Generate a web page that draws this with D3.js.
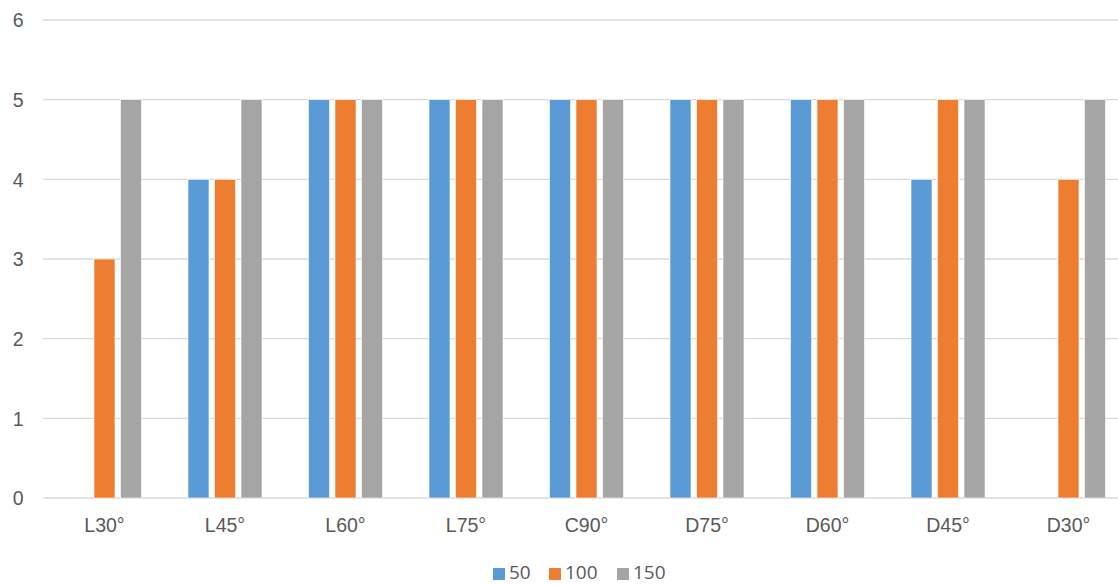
<!DOCTYPE html>
<html>
<head>
<meta charset="utf-8">
<script src="https://cdn.jsdelivr.net/npm/d3@7"></script>
<style>
  html, body { margin: 0; padding: 0; background: #fff; }
  svg { display: block; font-family: "Open Sans", "Liberation Sans", sans-serif; }
</style>
</head>
<body>
<svg id="chart" width="1118" height="585"></svg>
<script>
// Angle positions along the x axis
const categories = ["L30°", "L45°", "L60°", "L75°", "C90°", "D75°", "D60°", "D45°", "D30°"];
// Series names (shown in the legend)
const seriesNames = ["50", "100", "150"];
// Values per series, one per category (null = no bar)
const values50  = [null, 4, 5, 5, 5, 5, 5, 4, null];
const values100 = [3, 4, 5, 5, 5, 5, 5, 5, 4];
const values150 = [5, 5, 5, 5, 5, 5, 5, 5, 5];
const yTicks = [0, 1, 2, 3, 4, 5, 6];
const colors = ["#5B9BD5", "#ED7D31", "#A5A5A5"];

const seriesValues = [values50, values100, values150];

const svg = d3.select("#chart");

const x0 = d3.scaleBand()
  .domain(categories)
  .range([44.25, 1128.75])
  .paddingInner(0)
  .paddingOuter(0);

const groupWidth = 74;
const x1 = d3.scaleBand()
  .domain(seriesNames)
  .range([0, groupWidth])
  .paddingInner(0.2075)
  .paddingOuter(0);

const y = d3.scaleLinear().domain([0, 6]).range([498, 20]);

// Horizontal gridlines
svg.append("g")
  .selectAll("line")
  .data(yTicks)
  .join("line")
  .attr("x1", 43)
  .attr("x2", 1118)
  .attr("y1", d => y(d))
  .attr("y2", d => y(d))
  .attr("stroke", "#D9D9D9")
  .attr("stroke-width", 1.3);

// Y axis labels
const yAxis = d3.axisLeft(y).tickValues(yTicks).tickSize(0).tickPadding(0).tickFormat(d3.format("d"));
const yg = svg.append("g").attr("transform", "translate(23.5,0)").call(yAxis);
yg.select(".domain").remove();
yg.selectAll("text")
  .attr("fill", "#595959")
  .style("font-size", "19.5px")
  .attr("dy", "0.35em");

// X axis labels
const xAxis = d3.axisBottom(x0).tickSize(0).tickPadding(0);
const xg = svg.append("g").attr("transform", "translate(0,518.5)").call(xAxis);
xg.select(".domain").remove();
xg.selectAll("text")
  .attr("fill", "#595959")
  .style("font-size", "19.5px")
  .attr("dy", "0.71em");

// Bars
const groups = svg.append("g")
  .selectAll("g")
  .data(categories)
  .join("g")
  .attr("transform", d => `translate(${x0(d) + x0.bandwidth() / 2 - groupWidth / 2},0)`);

groups.selectAll("rect")
  .data((cat, i) => seriesNames.map((s, k) => ({ s, k, v: seriesValues[k][i] })).filter(d => d.v != null))
  .join("rect")
  .attr("x", d => x1(d.s))
  .attr("width", x1.bandwidth())
  .attr("y", d => y(d.v))
  .attr("height", d => y(0) - y(d.v))
  .attr("fill", d => colors[d.k])
  .attr("stroke", "#fff")
  .attr("stroke-width", 0.6);

// Legend
const legendItems = [
  { name: seriesNames[0], x: 493 },
  { name: seriesNames[1], x: 549 },
  { name: seriesNames[2], x: 617 }
];
const legend = svg.append("g");
legendItems.forEach((item, k) => {
  legend.append("rect")
    .attr("x", item.x)
    .attr("y", 568)
    .attr("width", 12)
    .attr("height", 12)
    .attr("fill", colors[k]);
  legend.append("text")
    .attr("x", item.x + 16)
    .attr("y", 579)
    .attr("fill", "#595959")
    .style("font-size", "19px")
    .text(item.name);
});
</script>
</body>
</html>
